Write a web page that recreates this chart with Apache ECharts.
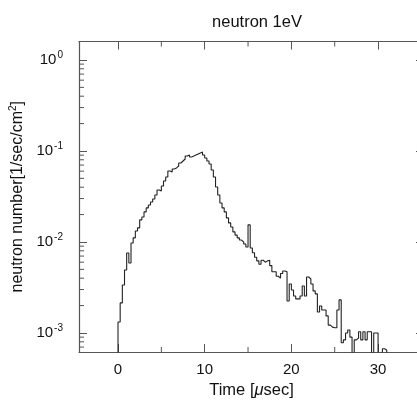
<!DOCTYPE html>
<html>
<head>
<meta charset="utf-8">
<script src="https://cdn.jsdelivr.net/npm/echarts@6/dist/echarts.min.js"></script>
<style>html,body{margin:0;padding:0;background:#fff}#c{width:417px;height:403px}</style>
</head>
<body>
<div id="c"></div>
<script>
// ---- data ----
const titleText = 'neutron 1eV';
const binWidth = 0.25;      // usec
const firstBin = 0;         // usec, left edge of first bin
const counts = [
  0.00132,0.00214,0.00337,0.00492,0.00757,0.00588,0.00976,0.0111,0.0132,0.0143,
  0.0175,0.0188,0.0214,0.0237,0.0255,0.0275,0.0297,0.0328,0.0373,0.0363,
  0.0412,0.0468,0.0518,0.0603,0.0588,0.0634,0.0651,0.0684,0.0738,0.0776,
  0.0816,0.0881,0.0904,0.0859,0.0881,0.0904,0.0927,0.0951,0.0975,0.0904,
  0.0838,0.0776,0.0720,0.0618,0.0518,0.0402,0.0328,0.0268,0.0237,0.0214,
  0.0184,0.0162,0.0146,0.0129,0.0119,0.0111,0.0105,0.0100,0.0095,0.0088,
  0.0154,0.0086,0.0076,0.0068,0.0062,0.0057,0.0063,0.0060,0.0062,0.0063,
  0.0055,0.0047,0.0047,0.0042,0.0040,0.0045,0.0048,0.0047,0.00225,0.00345,
  0.00297,0.00255,0.00237,0.00237,0.00255,0.00328,0.00255,0.00412,0.00392,0.00345,
  0.00290,0.00269,0.00170,0.00198,0.00179,0.00179,0.00154,0.00122,0.00116,0.00114,
  0.00114,0.00179,0.00231,0.00078,0.00084,0.00100,0.00108,0.00090,0,0.00084,
  0.00088,0.00103,0.00084,0.00103,0.00084,0.00103,0.00103,0,0.00100,0.00100,
  0,0,0.00067,0.00065,0
];
const xMajorTicks = [0, 10, 20, 30];
const xMinorTicks = [5, 15, 25, 35];
const yMajorTicks = [0.001, 0.01, 0.1, 1];
const yMinorTicks = [0.0007,0.0008,0.0009,
  0.002,0.003,0.004,0.005,0.006,0.007,0.008,0.009,
  0.02,0.03,0.04,0.05,0.06,0.07,0.08,0.09,
  0.2,0.3,0.4,0.5,0.6,0.7,0.8,0.9];
const X_MIN = -4.5, X_MAX = 35.3;
const Y_MIN = 0.000618, Y_MAX = 1.596;
const ZERO_FLOOR = 1e-6; // empty bins drawn at the bottom (below axis min)

// ---- build ----
const FONT = 'Liberation Sans';
const lineCol = '#222';
const axisCol = '#555';
const pts = [[firstBin, ZERO_FLOOR]];
counts.forEach((v, i) => pts.push([firstBin + i * binWidth, v > 0 ? v : ZERO_FLOOR]));
pts.push([firstBin + counts.length * binWidth, ZERO_FLOOR]);

function supLabel(v) {
  const e = Math.round(Math.log10(v));
  return '{b|10}{s|' + e + '}';
}
const labelRich = {
  b: {fontSize: 15, fontFamily: FONT, color: '#111'},
  s: {fontSize: 10, fontFamily: FONT, color: '#111', padding: [0, 0, 9, 1]}
};

const chart = echarts.init(document.getElementById('c'), null, {renderer: 'canvas'});
const baseX = {
  type: 'value', min: X_MIN, max: X_MAX,
  splitLine: {show: false},
  axisLine: {show: true, onZero: false, lineStyle: {color: axisCol, width: 1.2}},
};
const baseY = {
  type: 'log', logBase: 10, min: Y_MIN, max: Y_MAX,
  splitLine: {show: false},
  axisLine: {show: true, onZero: false, lineStyle: {color: axisCol, width: 1.2}},
};
chart.setOption({
  animation: false,
  backgroundColor: '#fff',
  title: {
    text: titleText, left: 252, top: 9, textAlign: 'center',
    textStyle: {fontSize: 16.5, fontWeight: 'normal', fontFamily: FONT, color: '#111'}
  },
  grid: {left: 79, top: 41.5, right: -7, bottom: 51, containLabel: false, outerBoundsMode: 'none'},
  xAxis: [
    Object.assign({}, baseX, {
      position: 'bottom',
      name: '{n|Time [}{i|μ}{n|sec]}', nameLocation: 'middle', nameGap: 30,
      nameTextStyle: {rich: {
        n: {fontSize: 16.5, fontFamily: FONT, color: '#111'},
        i: {fontSize: 16.5, fontFamily: FONT, fontStyle: 'italic', color: '#111'}
      }},
      axisTick: {show: true, inside: true, length: 8, customValues: xMajorTicks, lineStyle: {color: axisCol}},
      axisLabel: {show: true, customValues: xMajorTicks, margin: 10, fontSize: 15, fontFamily: FONT, color: '#111'}
    }),
    Object.assign({}, baseX, {
      position: 'top',
      axisTick: {show: true, inside: true, length: 8, customValues: xMajorTicks, lineStyle: {color: axisCol}},
      axisLabel: {show: false}
    })
  ],
  yAxis: [
    Object.assign({}, baseY, {
      position: 'left',
      name: '{n|neutron number[1/sec/cm}{s|2}{n|]}', nameLocation: 'middle', nameGap: 52,
      nameTextStyle: {rich: {
        n: {fontSize: 16, fontFamily: FONT, color: '#111'},
        s: {fontSize: 10, fontFamily: FONT, color: '#111', padding: [0, 0, 9, 0]}
      }},
      axisTick: {show: true, inside: true, length: 8, customValues: yMajorTicks, lineStyle: {color: axisCol}},
      axisLabel: {show: true, customValues: yMajorTicks, margin: 16, formatter: supLabel, rich: labelRich}
    }),
    Object.assign({}, baseY, {
      position: 'right',
      axisTick: {show: true, inside: true, length: 8, customValues: yMajorTicks, lineStyle: {color: axisCol}},
      axisLabel: {show: false}
    })
  ],
  series: [
    {
      type: 'line', xAxisIndex: 0, yAxisIndex: 0, step: 'end',
      data: pts, showSymbol: false, symbol: 'none', clip: true,
      lineStyle: {color: lineCol, width: 1.1}, z: 3
    },
    {
      type: 'custom', xAxisIndex: 0, yAxisIndex: 0, silent: true, z: 4,
      data: xMinorTicks.map(v => [v]),
      renderItem: function (params, api) {
        const cs = params.coordSys;
        const x = api.coord([api.value(0), 0.01])[0];
        const b = cs.y + cs.height, t = cs.y;
        const st = {stroke: axisCol, lineWidth: 1};
        return {type: 'group', children: [
          {type: 'line', shape: {x1: x, y1: b, x2: x, y2: b - 5}, style: st},
          {type: 'line', shape: {x1: x, y1: t, x2: x, y2: t + 5}, style: st}
        ]};
      }
    },
    {
      type: 'custom', xAxisIndex: 0, yAxisIndex: 0, silent: true, z: 4,
      encode: {x: 0, y: 1},
      data: yMinorTicks.map(v => [0, v]),
      renderItem: function (params, api) {
        const cs = params.coordSys;
        const y = api.coord([0, api.value(1)])[1];
        const l = cs.x, r = cs.x + cs.width;
        const st = {stroke: axisCol, lineWidth: 1};
        return {type: 'group', children: [
          {type: 'line', shape: {x1: l, y1: y, x2: l + 5, y2: y}, style: st},
          {type: 'line', shape: {x1: r, y1: y, x2: r - 5, y2: y}, style: st}
        ]};
      }
    }
  ]
});
</script>
</body>
</html>
